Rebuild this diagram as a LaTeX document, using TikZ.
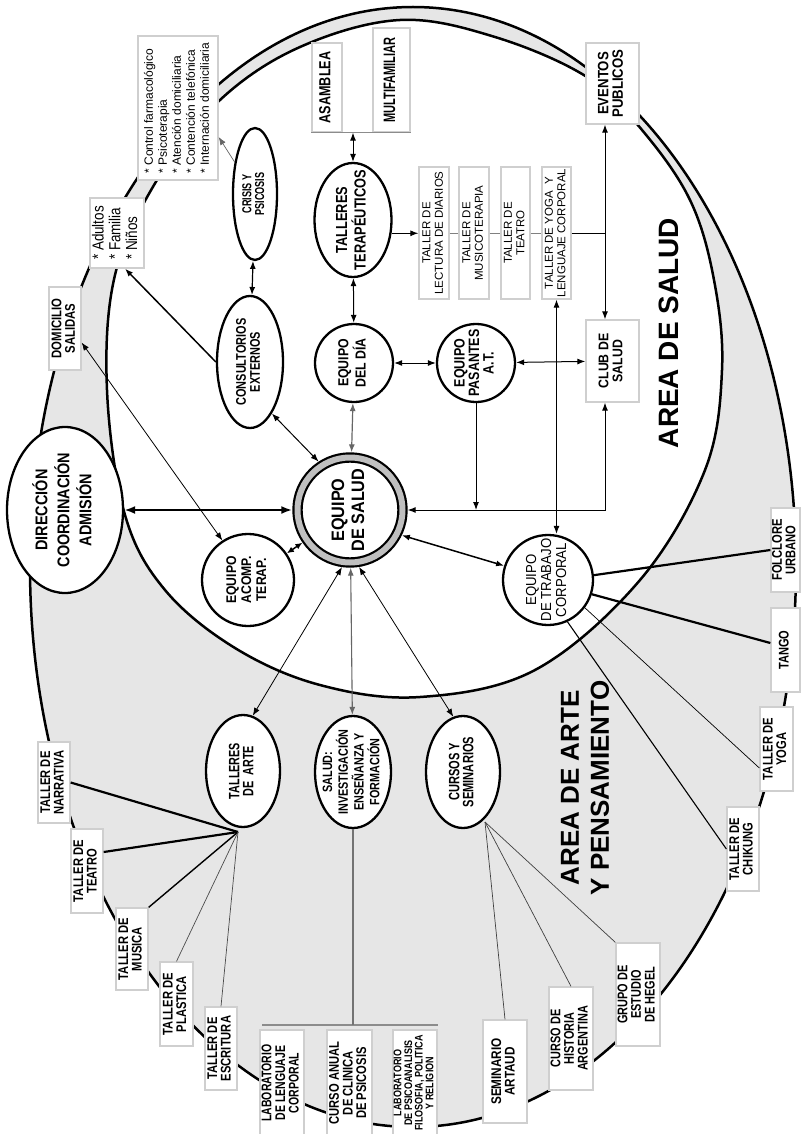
\documentclass[tikz,border=0pt]{standalone}
\usepackage{fontspec}
\setmainfont{Liberation Sans}
\usepackage{graphicx}
\usetikzlibrary{shapes.geometric,arrows.meta,calc}
\definecolor{areagray}{HTML}{E6E6E6}
\definecolor{boxgray}{HTML}{CFCFCF}
\newcommand{\rotB}[4][0.8]{\rotatebox{90}{\scalebox{#1}[1]{\fontsize{#2}{#3}\selectfont\bfseries\begin{tabular}{@{}c@{}}#4\end{tabular}}}}
\newcommand{\rotR}[4][1]{\rotatebox{90}{\scalebox{#1}[1]{\fontsize{#2}{#3}\selectfont\begin{tabular}{@{}c@{}}#4\end{tabular}}}}
\newcommand{\rotL}[4][1]{\rotatebox{90}{\scalebox{#1}[1]{\fontsize{#2}{#3}\selectfont\begin{tabular}{@{}l@{}}#4\end{tabular}}}}
\begin{document}
\begin{tikzpicture}[x=1pt,y=-1pt,
  ell/.style={ellipse, draw, line width=2.3pt, fill=white, inner sep=0pt},
  circ/.style={circle, draw, line width=2.3pt, fill=white, inner sep=0pt},
  gbox/.style={rectangle, draw=boxgray, line width=1.3pt, fill=white, inner sep=0pt},
  con/.style={line width=1pt},
  >={Latex[length=8pt,width=6pt]}]
\useasboundingbox (0,0) rectangle (800,1134);
% areas
\filldraw[fill=areagray, line width=2.5pt] (413,567) ellipse (383 and 560);
\filldraw[fill=white, line width=2.5pt] plot[smooth cycle, tension=0.6] coordinates {(400,20) (495,37) (587,77) (642,130) (690,200) (714,280) (722,370) (705,470) (640,580) (535,670) (420,697) (320,685) (235,648) (165,590) (125,515) (107,390) (115,275) (157,180) (220,100) (300,47)};
\node[rotate=90, font=\fontsize{28}{32}\selectfont\bfseries] (tsalud) at (669,333) {AREA DE SALUD};
\node[rotate=90, align=center, font=\fontsize{26}{30}\selectfont\bfseries] (tarte) at (585,788) {AREA DE ARTE\\Y PENSAMIENTO};
% main nodes
\node[ell, minimum width=116pt, minimum height=166pt, label={center:\rotB[0.85]{17}{22}{DIRECCIÓN\\COORDINACIÓN\\ADMISIÓN}}] (dir) at (65,510) {};
\node[circ, double=black!25, double distance=6pt, line width=2.2pt, minimum size=105pt, outer sep=5.2pt, label={center:\rotB[0.9]{18}{20}{EQUIPO\\DE SALUD}}] (salud) at (350,510) {};
\node[circ, minimum size=92pt, label={center:\rotB[0.87]{14}{15}{EQUIPO\\ACOMP.\\TERAP.}}] (acomp) at (248,580) {};
\node[ell, minimum width=66pt, minimum height=132pt, label={center:\rotB[0.78]{14}{13.5}{CONSULTORIOS\\EXTERNOS}}] (consult) at (250,362) {};
\node[ell, minimum width=44pt, minimum height=132pt, label={center:\rotB[0.7]{13}{12}{CRISIS Y\\PSICOSIS}}] (crisis) at (255,194) {};
\node[ell, minimum width=77pt, minimum height=114pt, label={center:\rotB[0.8]{16}{15}{TALLERES\\TERAPÉUTICOS}}] (terap) at (353,220) {};
\node[circ, minimum size=78pt, label={center:\rotB[0.85]{14.5}{15}{EQUIPO\\DEL DÍA}}] (dia) at (354,363) {};
\node[circ, minimum size=78pt, label={center:\rotB[0.83]{15}{14}{EQUIPO\\PASANTES\\A.T.}}] (pasantes) at (476,363) {};
\node[circ, minimum size=90pt, label={center:\rotR[0.91]{14.5}{15}{EQUIPO\\DE TRABAJO\\CORPORAL}}] (trabajo) at (548,580) {};
\node[ell, minimum width=74pt, minimum height=112pt, label={center:\rotB[0.72]{15}{12.5}{TALLERES\\DE~~ARTE}}] (arte) at (243,771) {};
\node[ell, minimum width=76pt, minimum height=112pt, label={center:\rotB[0.8]{13.5}{12.5}{SALUD:\\INVESTIGACIÓN\\ENSEÑANZA Y\\FORMACIÓN}}] (invest) at (353,772) {};
\node[ell, minimum width=74pt, minimum height=112pt, label={center:\rotB[0.74]{15}{12.5}{CURSOS Y\\SEMINARIOS}}] (cursos) at (463,772) {};
% boxes inside
\node[gbox, minimum width=30pt, minimum height=89pt] (asamblea) at (327,87.5) {\rotB[0.79]{16}{14}{ASAMBLEA}};
\node[gbox, minimum width=37pt, minimum height=104pt] (multi) at (391.5,80) {\rotB[0.67]{16.5}{13}{MULTIFAMILIAR}};
\node[gbox, minimum width=80pt, minimum height=144pt] (control) at (178,108) {\rotL{12}{14}{* Control farmacológico\\{*} Psicoterapia\\{*} Atención domiciliaria\\{*} Contención telefónica\\{*} Internación domiciliaria}};
\node[gbox, minimum width=54pt, minimum height=70pt] (adultos) at (117,233) {\rotL[0.84]{16}{16.7}{* Adultos\\{*} Familia\\{*} Niños}};
\node[gbox, minimum width=32pt, minimum height=83pt] (domic) at (65,328.5) {\rotB[0.81]{14}{12.5}{DOMICILIO\\SALIDAS}};
\node[gbox, minimum width=53pt, minimum height=81pt] (eventos) at (612.5,83.5) {\rotB[0.88]{15}{14}{EVENTOS\\PUBLICOS}};
\node[gbox, minimum width=53pt, minimum height=82pt] (club) at (612.5,361) {\rotB[0.88]{14}{14}{CLUB DE\\SALUD}};
\node[gbox, minimum width=30pt, minimum height=132pt] (lectura) at (434,233) {\rotR{11.5}{12.5}{TALLER DE\\LECTURA DE DIARIOS}};
\node[gbox, minimum width=30pt, minimum height=132pt] (musico) at (474,233) {\rotR{11.5}{12.5}{TALLER DE\\MUSICOTERAPIA}};
\node[gbox, minimum width=29pt, minimum height=132pt] (teatroT) at (515.5,233) {\rotR{11.5}{12.5}{TALLER DE\\TEATRO}};
\node[gbox, minimum width=29pt, minimum height=132pt] (yogaT) at (556.5,233) {\rotR{11.5}{12.5}{TALLER DE YOGA~~Y\\LENGUAJE CORPORAL}};
% outer boxes
\node[gbox, minimum width=29pt, minimum height=84pt] (folclore) at (785.5,550) {\rotB{14}{12.5}{FOLCLORE\\URBANO}};
\node[gbox, minimum width=29pt, minimum height=84pt] (tango) at (785.5,650) {\rotB[0.79]{14}{12.5}{TANGO}};
\node[gbox, minimum width=33pt, minimum height=84pt] (yoga) at (776.5,749) {\rotB{14}{12.5}{TALLER DE\\YOGA}};
\node[gbox, minimum width=32pt, minimum height=84pt] (chikung) at (743,849) {\rotB{14}{12.5}{TALLER DE\\CHIKUNG}};
\node[gbox, minimum width=44pt, minimum height=103pt] (hegel) at (638,994.5) {\rotB[0.78]{14}{13}{GRUPO DE\\ESTUDIO\\DE HEGEL}};
\node[gbox, minimum width=44pt, minimum height=103pt] (historia) at (571,1038.5) {\rotB[0.78]{14}{13}{CURSO DE\\HISTORIA\\ARGENTINA}};
\node[gbox, minimum width=44pt, minimum height=103pt] (artaud) at (505,1071.5) {\rotB[0.84]{14}{13}{SEMINARIO\\ARTAUD}};
\node[gbox, minimum width=44pt, minimum height=106pt] (labP) at (415,1083) {\rotB[0.82]{11}{10}{LABORATORIO\\DE PSICOANALISIS\\FILOSOFIA, POLITICA\\Y RELIGION}};
\node[gbox, minimum width=45pt, minimum height=106pt] (anual) at (349.5,1083) {\rotB{14}{12.5}{CURSO ANUAL\\DE CLINICA\\DE PSICOSIS}};
\node[gbox, minimum width=44pt, minimum height=106pt] (labL) at (282,1083) {\rotB[0.75]{14}{12.5}{LABORATORIO\\DE LENGUAJE\\CORPORAL}};
\node[gbox, minimum width=32pt, minimum height=83pt] (escritura) at (221,1048.5) {\rotB{14}{12.5}{TALLER DE\\ESCRITURA}};
\node[gbox, minimum width=33pt, minimum height=84pt] (plastica) at (176.5,1004) {\rotB{14}{12.5}{TALLER DE\\PLASTICA}};
\node[gbox, minimum width=32pt, minimum height=82pt] (musica) at (132,949) {\rotB{14}{12.5}{TALLER DE\\MUSICA}};
\node[gbox, minimum width=32pt, minimum height=84pt] (teatro) at (87,871) {\rotB{14}{12.5}{TALLER DE\\TEATRO}};
\node[gbox, minimum width=32pt, minimum height=81pt] (narrativa) at (54,782.5) {\rotB{14}{12.5}{TALLER DE\\NARRATIVA}};
% connectors
\draw[<->, line width=2.2pt, >={Latex[length=11pt,width=8pt]}] (dir) -- (salud);
\draw[<->, line width=1.2pt, draw=black!60] (dia) -- (salud);
\draw[<->, con] (dia) -- (terap);
\draw[<->, con] (terap.north) -- (terap.north |- asamblea.south);
\draw[black!45, line width=1pt] (asamblea.south west) -- (multi.south east);
\draw[<->, con] (dia) -- (pasantes);
\draw[<->, con] (pasantes) -- (club);
\draw[<->, line width=1.2pt] (consult) -- (crisis);
\draw[->, line width=0.7pt, black!60] (crisis) -- ($(control.east)+(0,29)$);
\draw[->, line width=1.5pt] (consult.west) -- ($(adultos.south)+(8,0)$);
\draw[<->, con] (consult.-67) -- (salud.123);
\draw[<->, line width=0.8pt] ($(domic.east)+(0,14)$) -- (acomp.123);
\draw[<->, line width=1.5pt, >={Latex[length=7pt,width=6pt]}] (acomp) -- (salud);
\draw[<->, line width=0.8pt] (salud.-98) -- (arte.80);
\draw[<->, line width=1.1pt, draw=black!60] (salud) -- (invest);
\draw[<->, line width=0.8pt] (salud.-81) -- (cursos.100);
\draw[<->, line width=1.5pt] (salud.-26) -- (trabajo.162);
% talleres row
\coordinate (evj) at (605,233);
\draw[->, con] (terap.-19) -- (terap.-19 -| lectura.west);
\draw[black!50, line width=1pt] (lectura.east) -- (musico.west) (musico.east) -- (teatroT.west) (teatroT.east) -- (yogaT.west);
\draw[con] (yogaT.east) -- (evj);
\draw[<->, con] (eventos.south -| evj) -- (club.north -| evj);
\draw[<->, con] (club.south -| evj) |- (salud.east);
\draw[->, con] (pasantes.south) -- (pasantes.south |- salud.east);
\draw[<->, con] (yogaT.south) -- (yogaT.south |- trabajo.north);
% investigacion bracket
\coordinate (brL) at (262,1025);
\coordinate (brR) at (438,1025);
\draw[black!45, line width=2pt] (brL) -- (brR);
\draw[black!55, line width=1.2pt] (invest.south) -- (invest.south |- brL);
% fans
\coordinate (artefan) at (238,832);
\draw[line width=2.2pt] (artefan) -- (narrativa.east);
\draw[line width=2.2pt] (artefan) -- ($(teatro.east)+(0,-19)$);
\draw[line width=1.4pt] (artefan) -- (musica.north east);
\draw[line width=0.7pt, black!70] (artefan) -- (plastica.north);
\draw[line width=0.7pt, black!70] (artefan) -- (escritura.north);
\coordinate (cursofan) at (485,822);
\draw[line width=0.7pt, black!75] (cursofan) -- (artaud.north);
\draw[line width=0.7pt, black!75] (cursofan) -- (historia.north);
\draw[line width=0.7pt, black!75] (cursofan) -- (hegel.north west);
\draw[line width=2.2pt] (trabajo.6) -- (folclore.west);
\draw[line width=2.2pt] (trabajo.-18) -- ($(tango.west)+(0,-7)$);
\draw[line width=0.7pt] (trabajo.-37) -- ($(yoga.west)+(0,19)$);
\draw[line width=1.1pt] (trabajo.-65) -- (chikung.west);
\end{tikzpicture}
\end{document}
